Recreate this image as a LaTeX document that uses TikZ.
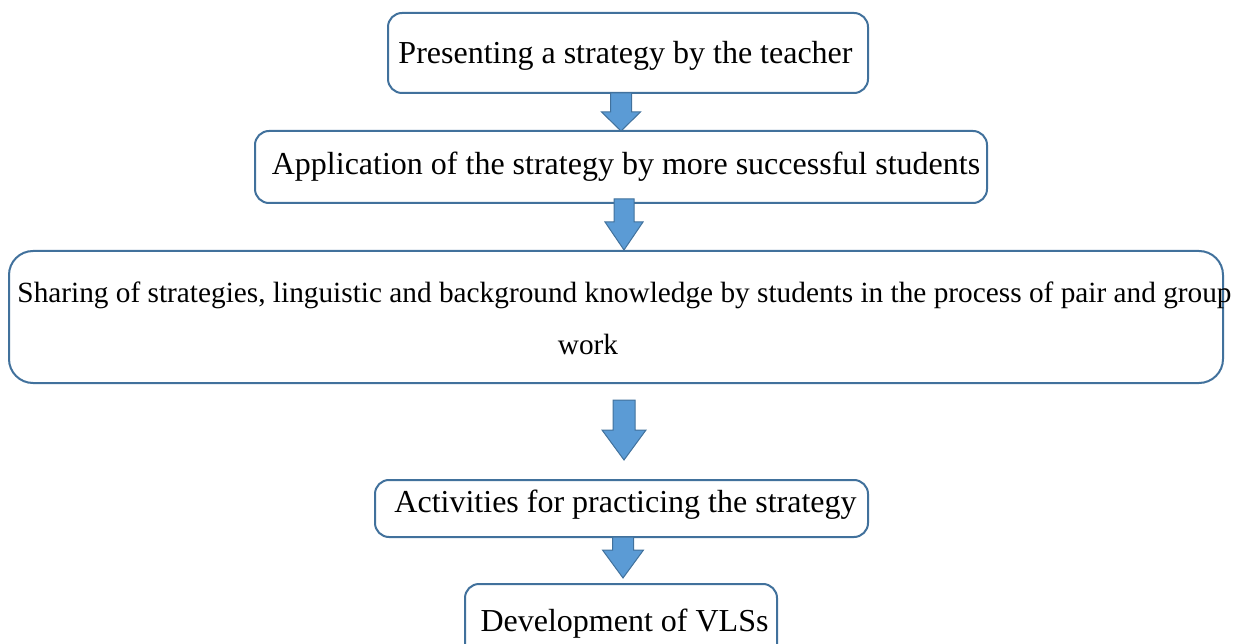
\documentclass[tikz,border=0pt]{standalone}
\usepackage{fontspec}
\setmainfont{Liberation Serif}
\definecolor{boxline}{HTML}{41719C}
\definecolor{arrfill}{HTML}{5B9BD5}
\newcommand{\blockarrow}[6]{% cx, ytop, yneck, ytip, shaft half, head half
  \draw[arrowstyle] (#1-#5,#2) -- (#1+#5,#2) -- (#1+#5,#3) -- (#1+#6,#3) -- (#1,#4) -- (#1-#6,#3) -- (#1-#5,#3) -- cycle;}
\begin{document}
\begin{tikzpicture}[x=1pt,y=-1pt,
  stepbox/.style={draw=boxline,line width=2pt,rounded corners=14pt,fill=white,inner sep=0pt,outer sep=0pt},
  txt/.style={inner sep=0pt,font=\fontsize{32}{50}\selectfont,anchor=center},
  smalltxt/.style={txt,font=\fontsize{29.3}{50}\selectfont},
  arrowstyle/.style={fill=arrfill,draw=boxline,line width=1pt,line join=miter}]
\useasboundingbox (0,0) rectangle (1234,644);
\begin{scope}
\clip (0,0) rectangle (1234,644);
% boxes
\node[stepbox,minimum width=480pt,minimum height=80pt] (b1) at (628,53) {};
\node[stepbox,minimum width=732pt,minimum height=72pt] (b2) at (621,167) {};
\node[stepbox,rounded corners=24pt,minimum width=1214pt,minimum height=132pt] (b3) at (616,317) {};
\node[stepbox,minimum width=493pt,minimum height=57pt] (b4) at (621.5,508.5) {};
\node[stepbox,minimum width=312pt,minimum height=76pt] (b5) at (621,622) {};
% arrows
\blockarrow{621}{93}{112}{131}{10.5}{19.5}
\blockarrow{624}{199}{222}{250}{10}{19}
\blockarrow{624}{400}{430}{460}{11}{22}
\blockarrow{623}{537}{550}{578}{10.5}{20.5}
\end{scope}
% texts
\node[txt] (t1) at (625.5,56) {Presenting a strategy by the teacher};
\node[txt] (t2) at (626,167) {Application of the strategy by more successful students};
\node[smalltxt] (t3) at (624.5,295) {Sharing of strategies, linguistic and background knowledge by students in the process of pair and group};
\node[smalltxt] (t3b) at (588,344) {work};
\node[txt] (t4) at (625.5,505) {Activities for practicing the strategy};
\node[txt] (t5) at (624.5,624) {Development of VLSs};
\end{tikzpicture}
\end{document}
